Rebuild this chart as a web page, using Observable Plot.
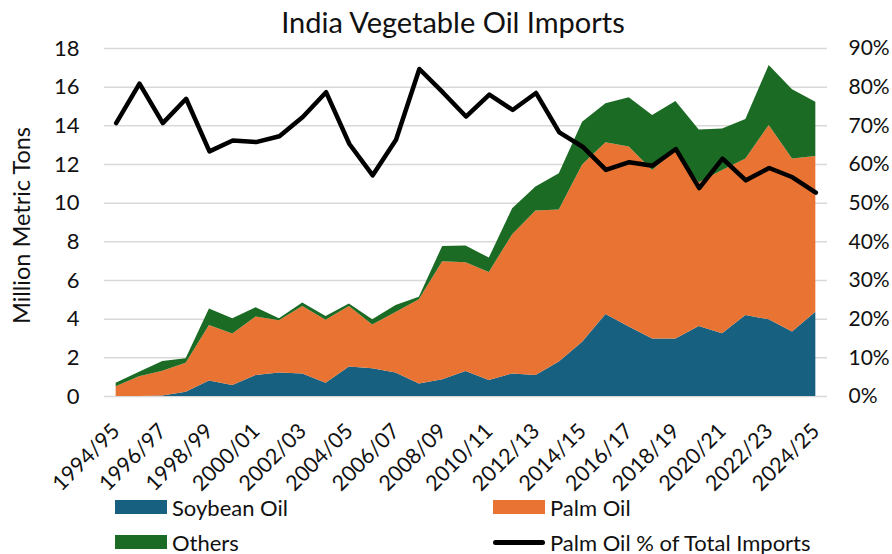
<!DOCTYPE html>
<html>
<head>
<meta charset="utf-8">
<script src="https://cdn.jsdelivr.net/npm/d3@7"></script>
<script src="https://cdn.jsdelivr.net/npm/@observablehq/plot@0.6"></script>
<style>
  body { margin: 0; background: #fff; font-family: Lato, "Open Sans", sans-serif; }
  #wrap { position: relative; width: 892px; height: 554px; overflow: hidden; }
  #title { position: absolute; left: 0; top: 4px; width: 906px; text-align: center; font-size: 29px; line-height: 36px; color: #111; }
  .leg { position: absolute; display: flex; align-items: center; font-size: 22px; color: #111; height: 24px; }
  .sw { width: 52px; height: 14px; margin-right: 5px; }
  .ln { width: 52px; height: 5px; border-radius: 3px; background: #000; margin-right: 5px; }
</style>
</head>
<body>
<div id="wrap">
  <div id="chart"></div>
  <div id="title">India Vegetable Oil Imports</div>
  <div id="legend"></div>
</div>
<script>
const years = ["1994/95","1995/96","1996/97","1997/98","1998/99","1999/00","2000/01","2001/02","2002/03","2003/04","2004/05","2005/06","2006/07","2007/08","2008/09","2009/10","2010/11","2011/12","2012/13","2013/14","2014/15","2015/16","2016/17","2017/18","2018/19","2019/20","2020/21","2021/22","2022/23","2023/24","2024/25"];
const soybean = [0, 0, 0.02, 0.22, 0.80, 0.57, 1.09, 1.21, 1.17, 0.69, 1.52, 1.43, 1.22, 0.65, 0.86, 1.29, 0.83, 1.17, 1.09, 1.78, 2.81, 4.24, 3.59, 2.98, 2.98, 3.62, 3.24, 4.19, 3.97, 3.33, 4.36];
const palm = [0.50, 1.02, 1.28, 1.50, 2.87, 2.66, 3.02, 2.71, 3.49, 3.26, 3.13, 2.27, 3.13, 4.35, 6.11, 5.63, 5.59, 7.20, 8.50, 7.87, 9.17, 8.88, 9.31, 8.71, 9.74, 7.43, 8.45, 8.10, 10.05, 8.96, 8.05];
const others = [0.19, 0.24, 0.51, 0.23, 0.86, 0.79, 0.48, 0.10, 0.17, 0.19, 0.14, 0.27, 0.36, 0.14, 0.79, 0.86, 0.74, 1.34, 1.24, 1.87, 2.21, 2.02, 2.55, 2.85, 2.54, 2.74, 2.15, 2.04, 3.10, 3.57, 2.81];
const palmPct = [70.7, 80.9, 70.7, 77.0, 63.4, 66.2, 65.8, 67.3, 72.3, 78.7, 65.3, 57.2, 66.4, 84.7, 78.7, 72.4, 78.1, 74.1, 78.5, 68.3, 64.6, 58.6, 60.6, 59.7, 64.0, 53.9, 61.5, 55.9, 59.1, 56.7, 52.7];
const seriesNames = ["Soybean Oil", "Palm Oil", "Others"];
const seriesColors = ["#17607f", "#e87333", "#1b6b24"];
const leftTicks = [0, 2, 4, 6, 8, 10, 12, 14, 16, 18];
const rightTicks = [0, 10, 20, 30, 40, 50, 60, 70, 80, 90];

const seriesValues = [soybean, palm, others];
const tidy = [];
seriesNames.forEach((name, s) => years.forEach((yr, i) => tidy.push({i, series: name, value: seriesValues[s][i]})));
const pctData = years.map((yr, i) => ({i, pct: palmPct[i]}));
const pctToLeft = 18 / 90;
const xTicks = years.map((d, i) => i).filter(i => i % 2 === 0);

const chart = Plot.plot({
  width: 892,
  height: 500,
  marginTop: 48,
  marginBottom: 104,
  marginLeft: 104,
  marginRight: 65,
  style: {fontFamily: "Lato, 'Open Sans', sans-serif", fontSize: "21px", color: "#111", overflow: "visible"},
  x: {type: "linear", domain: [-0.5, years.length - 0.5]},
  y: {domain: [0, 18]},
  color: {domain: seriesNames, range: seriesColors},
  marks: [
    Plot.ruleY(leftTicks, {stroke: "#d9d9d9", strokeWidth: 1.5}),
    Plot.areaY(tidy, Plot.stackY({x: "i", y: "value", fill: "series", order: seriesNames})),
    Plot.line(pctData, {x: "i", y: d => d.pct * pctToLeft, stroke: "#000", strokeWidth: 4.5, strokeLinejoin: "round", strokeLinecap: "round"}),
    Plot.axisY(leftTicks, {anchor: "left", tickSize: 0, tickPadding: 25, label: null, fontSize: 22}),
    Plot.axisY(rightTicks.map(d => d * pctToLeft), {anchor: "right", tickSize: 0, tickPadding: 21, label: null, fontSize: 21, textAnchor: "start", tickFormat: d => Math.round(d / pctToLeft) + "%"}),
    Plot.axisX(xTicks, {anchor: "bottom", tickSize: 0, tickPadding: 31, tickRotate: -45, label: null, fontSize: 21.5, tickFormat: i => years[i]}),
    Plot.text(["Million Metric Tons"], {frameAnchor: "left", textAnchor: "middle", rotate: -90, dx: -82, dy: 3, fontSize: 23.5, fill: "#111"})
  ]
});
document.getElementById("chart").appendChild(chart);

const legendItems = [
  {label: "Soybean Oil", color: seriesColors[0], left: 115, top: 495, type: "sw"},
  {label: "Palm Oil", color: seriesColors[1], left: 493, top: 495, type: "sw"},
  {label: "Others", color: seriesColors[2], left: 115, top: 530, type: "sw"},
  {label: "Palm Oil % of Total Imports", color: "#000", left: 493, top: 530, type: "ln"}
];
const legend = document.getElementById("legend");
legendItems.forEach(it => {
  const d = document.createElement("div");
  d.className = "leg";
  d.style.left = it.left + "px";
  d.style.top = it.top + "px";
  const s = document.createElement("div");
  s.className = it.type;
  if (it.type === "sw") s.style.background = it.color;
  d.appendChild(s);
  const t = document.createElement("span");
  t.textContent = it.label;
  d.appendChild(t);
  legend.appendChild(d);
});
</script>
</body>
</html>
